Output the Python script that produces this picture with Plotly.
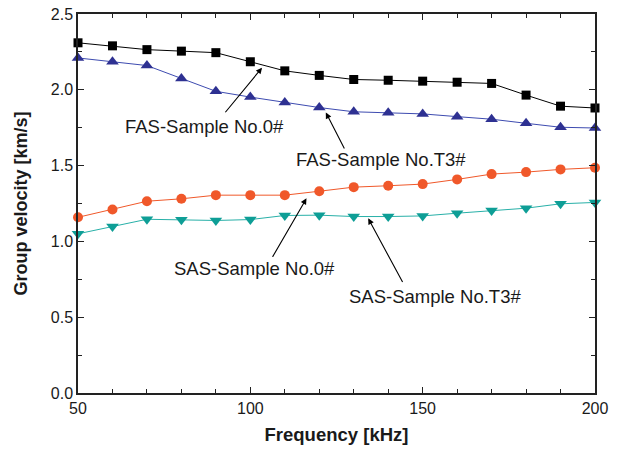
import plotly.graph_objects as go

# Frequency sweep (kHz)
frequency = [50, 60, 70, 80, 90, 100, 110, 120, 130, 140, 150, 160, 170, 180, 190, 200]

# Group velocity (km/s) for each mode / sample
fas_no0 = [2.31, 2.29, 2.265, 2.255, 2.245, 2.185, 2.125, 2.095, 2.068, 2.063, 2.057, 2.05, 2.042, 1.965, 1.892, 1.88]
fas_t3 = [2.21, 2.185, 2.16, 2.075, 1.99, 1.952, 1.916, 1.883, 1.855, 1.848, 1.841, 1.823, 1.806, 1.779, 1.753, 1.748]
sas_no0 = [1.159, 1.21, 1.265, 1.281, 1.305, 1.305, 1.305, 1.331, 1.358, 1.367, 1.378, 1.409, 1.444, 1.457, 1.475, 1.486]
sas_t3 = [1.05, 1.098, 1.146, 1.142, 1.138, 1.144, 1.171, 1.173, 1.164, 1.164, 1.168, 1.186, 1.204, 1.219, 1.248, 1.257]

series = [
    ("FAS-Sample No.0#", fas_no0, "#000000", "#000000", "square", 9),
    ("FAS-Sample No.T3#", fas_t3, "#2E3192", "#3D4BB0", "triangle-up", 11),
    ("SAS-Sample No.0#", sas_no0, "#F0582A", "#F0582A", "circle", 10),
    ("SAS-Sample No.T3#", sas_t3, "#0E9E96", "#28B0A8", "triangle-down", 11),
]

FONT = "Liberation Sans, Arial, sans-serif"

fig = go.Figure()
for name, vals, mcol, lcol, sym, size in series:
    fig.add_trace(go.Scatter(
        x=frequency, y=vals, name=name, mode="lines+markers",
        line=dict(color=lcol, width=1),
        marker=dict(symbol=sym, size=size, color=mcol, line=dict(width=0)),
        cliponaxis=False,
    ))

# Labels with arrows pointing to each curve: (text, text centre, arrow tail, arrow head)
labels = [
    ("FAS-Sample No.0#", (86.7, 1.758), (92.4, 1.842), (103.4, 2.146)),
    ("FAS-Sample No.T3#", (137.8, 1.538), (127.5, 1.603), (121.9, 1.851)),
    ("SAS-Sample No.0#", (101.1, 0.821), (106.2, 0.888), (116.3, 1.284)),
    ("SAS-Sample No.T3#", (153.6, 0.634), (144.4, 0.722), (134.2, 1.152)),
]
font_txt = dict(family=FONT, size=18.5, color="#1a1a1a")
for text, (tx, ty), (ax, ay), (hx, hy) in labels:
    fig.add_annotation(x=tx, y=ty, xref="x", yref="y", text=text, showarrow=False,
                       font=font_txt, xanchor="center", yanchor="middle")
    fig.add_annotation(x=hx, y=hy, xref="x", yref="y", ax=ax, ay=ay, axref="x", ayref="y",
                       text="", showarrow=True, arrowhead=2, arrowsize=1.1, arrowwidth=1.1,
                       arrowcolor="#000000", standoff=0, startstandoff=0)

axis_common = dict(
    showgrid=False, zeroline=False, showline=True, linecolor="#222222", linewidth=1.5,
    mirror="ticks", ticks="inside", ticklen=6, tickwidth=1, tickcolor="#222222",
    tickfont=dict(family=FONT, size=16, color="#1a1a1a"),
)

fig.update_xaxes(
    range=[50, 200], tickvals=[50, 100, 150, 200],
    minor=dict(dtick=10, ticks="inside", ticklen=4, tickcolor="#222222", tickwidth=1),
    title=dict(text="<b>Frequency [kHz]</b>", standoff=12,
               font=dict(family=FONT, size=18.5, color="#1a1a1a")),
    **axis_common,
)
fig.update_yaxes(
    range=[0, 2.5], tickvals=[0, 0.5, 1.0, 1.5, 2.0, 2.5], tickformat=".1f",
    minor=dict(dtick=0.25, ticks="inside", ticklen=4, tickcolor="#222222", tickwidth=1),
    title=dict(text="<b>Group velocity [km/s]</b>", standoff=18,
               font=dict(family=FONT, size=18, color="#1a1a1a")),
    **axis_common,
)

fig.update_layout(
    width=621, height=449,
    margin=dict(l=78, r=26, t=14, b=56, autoexpand=False),
    paper_bgcolor="white", plot_bgcolor="white",
    showlegend=False,
)

fig.write_html("out.html")
